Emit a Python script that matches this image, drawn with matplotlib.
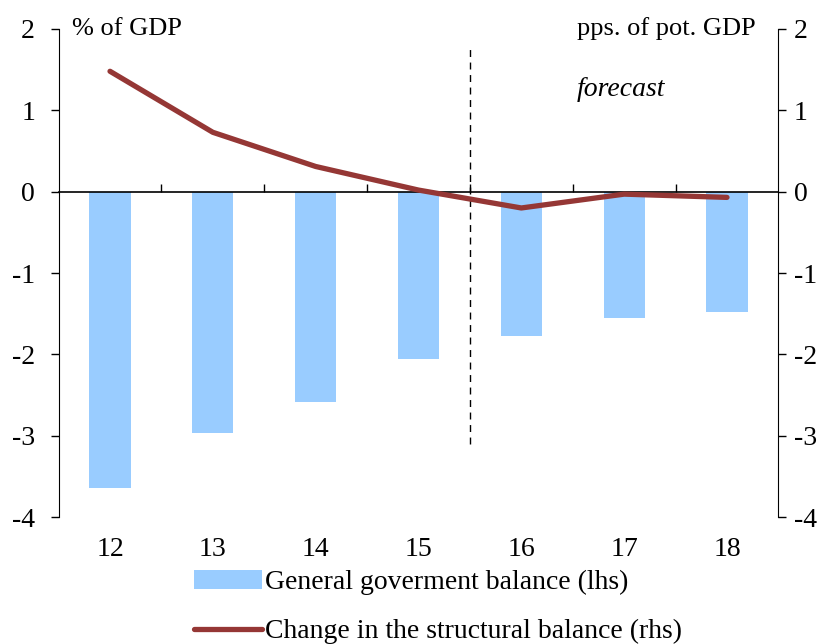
import matplotlib
matplotlib.use("Agg")
import matplotlib.pyplot as plt
import matplotlib.transforms as mtransforms
import numpy as np

plt.rcParams['font.family'] = ['Liberation Serif', 'DejaVu Serif']

years = ["12", "13", "14", "15", "16", "17", "18"]
gov_balance = [-3.64, -2.97, -2.59, -2.06, -1.77, -1.55, -1.48]
struct_change = [1.48, 0.73, 0.31, 0.02, -0.20, -0.03, -0.07]
yticks = [-4, -3, -2, -1, 0, 1, 2]

bar_color = "#99CCFF"
line_color = "#953735"
fs = 20

fig = plt.figure(figsize=(8.23, 6.44), dpi=100)
ax = fig.add_axes([0.0712, 0.197, 0.8746, 0.758])
x = np.arange(len(years))

bars = ax.bar(x, gov_balance, width=0.4, color=bar_color, zorder=2,
              label="General goverment balance (lhs)")
ax.set_xlim(-0.5, len(years) - 0.5)
ax.set_ylim(-4, 2)
ax.set_yticks(yticks)
ax.set_yticklabels([str(v) for v in yticks], fontsize=fs)
ax.tick_params(axis='y', direction='out', length=6, width=1, pad=11)

ax.spines['top'].set_visible(False)
ax.spines['right'].set_visible(False)
ax.spines['bottom'].set_position(('data', 0))
ax.spines['bottom'].set_linewidth(1.2)
ax.set_xticks(np.arange(0.5, len(years) - 1, 1.0))
ax.set_xticklabels([])
ax.tick_params(axis='x', direction='in', length=6, width=1)

trans = mtransforms.blended_transform_factory(ax.transData, ax.transAxes)
for xi, lab in zip(x, years):
    ax.text(xi, -0.066, lab, transform=trans, ha='center', va='center', fontsize=fs)

ax.axvline(3.5, ymin=0.15, ymax=0.967, color='black', linestyle=(0, (5, 4)), linewidth=1)

ax2 = ax.twinx()
ax2.set_ylim(-4, 2)
ax2.set_yticks(yticks)
ax2.set_yticklabels([str(v) for v in yticks], fontsize=fs)
ax2.tick_params(axis='y', direction='out', length=6, width=1, pad=5)
for s in ['top', 'left', 'bottom']:
    ax2.spines[s].set_visible(False)
line, = ax2.plot(x, struct_change, color=line_color, linewidth=3.8,
                 solid_capstyle='round', label="Change in the structural balance (rhs)", zorder=3)

ax.text(0.018, 1.0, "% of GDP", transform=ax.transAxes, ha='left', va='center', fontsize=19,
        bbox=dict(facecolor='white', edgecolor='none', pad=1))
ax.text(0.968, 1.0, "pps. of pot. GDP", transform=ax.transAxes, ha='right', va='center', fontsize=19,
        bbox=dict(facecolor='white', edgecolor='none', pad=1))
ax.text(4.97, 1.26, "forecast", ha='center', va='center', fontsize=fs, style='italic')

fig.legend([bars, line], [bars.get_label(), line.get_label()],
           loc='upper left', bbox_to_anchor=(194 / 823, 1 - 570 / 644),
           frameon=False, fontsize=fs, handlelength=2.45, handletextpad=0.1,
           labelspacing=0.85, borderpad=0, borderaxespad=0)

fig.savefig("out.png", dpi=100)
